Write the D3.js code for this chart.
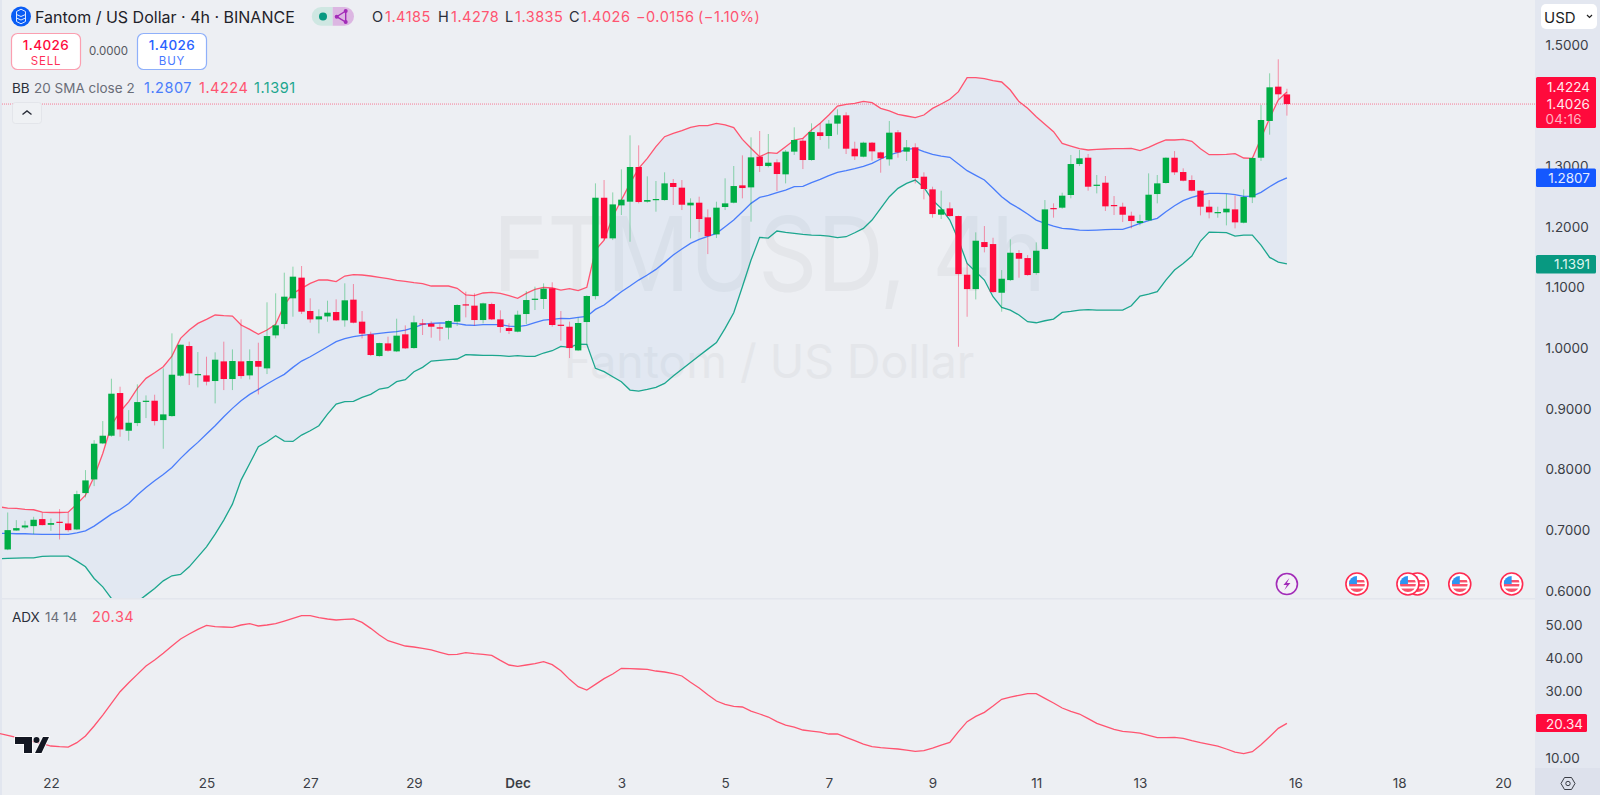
<!DOCTYPE html>
<html>
<head>
<meta charset="utf-8">
<script src="https://cdn.jsdelivr.net/npm/d3@7"></script>
<style>
  html, body { margin: 0; padding: 0; background: #edeff3; overflow: hidden; }
  svg { display: block; font-family: Inter, "Noto Sans", sans-serif; }
  .axis text { font-family: Inter, "Noto Sans", sans-serif; font-size: 13.5px; fill: #3b3e46; }
  .axis .domain { display: none; }
</style>
</head>
<body>
<svg id="chart" width="1600" height="795"></svg>
<script>
// candles, bar 0 is the leftmost one on screen
const opens = [
  .6680,.6993,.7043,.7065,.7181,.7087,.7137,.7109,.7010,.7610,.7835,.8429,.8556,.9260,.8638,.8765,.9117,.9133,.8814,.8880,
  .9546,1.0035,.9562,.9551,.9458,.9782,.9491,.9782,.9551,.9788,.9667,1.0211,1.0398,1.0822,1.1163,1.0613,1.0475,1.0524,1.0596,1.0459,
  1.0800,1.0437,1.0228,.9870,1.0079,.9947,1.0228,1.0002,1.0409,1.0404,1.0343,1.0338,1.0437,1.0723,1.0701,1.0464,1.0728,1.0475,1.0332,1.0272,
  1.0563,1.0805,1.0811,1.0987,1.0387,1.0354,.9963,1.0431,1.0859,1.2481,1.1811,1.2355,1.2416,1.2988,1.2416,1.2449,1.2443,1.2724,1.2647,1.2355,
  1.2399,1.2157,1.1877,1.2328,1.2399,1.2685,1.2652,1.3158,1.3004,1.3065,1.2867,1.3241,1.3422,1.3103,1.3560,1.3499,1.3703,1.3840,1.3290,1.3158,
  1.3389,1.3229,1.3114,1.3560,1.3241,1.3312,1.2828,1.2619,1.2201,1.2306,1.2179,1.1211,1.0974,1.1750,1.1717,1.0914,1.1123,1.1569,1.1486,1.1239,
  1.1634,1.2311,1.2317,1.2526,1.3037,1.3141,1.2685,1.2729,1.2361,1.2333,1.2185,1.2064,1.2108,1.2542,1.2724,1.3141,1.2905,1.2773,1.2597,1.2333,
  1.2229,1.2240,1.2289,1.2069,1.2487,1.3141,1.3747,1.4313,1.4185];
const highs = [
  .7290,.7164,.7153,.7219,.7290,.7192,.7346,.7290,.7648,.7989,.8484,.8798,.9496,.9364,.8979,.9403,.9221,.9232,.9667,1.0244,
  1.0057,1.0107,.9936,.9859,.9931,1.0107,.9980,1.0475,.9980,1.0090,1.0756,1.0904,1.1245,1.1344,1.1355,1.0822,1.0640,1.0783,1.0805,1.1069,
  1.1058,1.0612,1.0272,1.0090,1.0189,1.0486,1.0376,1.0536,1.0481,1.0442,1.0409,1.0459,1.0723,1.0932,1.0904,1.0750,1.0750,1.0624,1.0409,1.0618,
  1.0943,1.1014,1.1069,1.1086,1.0612,1.0437,1.0502,1.0871,1.2718,1.2773,1.2569,1.2949,1.3510,1.3345,1.2834,1.2757,1.2900,1.2790,1.2773,1.2471,
  1.2498,1.2289,1.2416,1.2801,1.3004,1.3180,1.3477,1.3582,1.3532,1.3114,1.3268,1.3642,1.3461,1.3708,1.3708,1.3763,1.3939,1.3890,1.3405,1.3405,
  1.3400,1.3240,1.3746,1.3598,1.3433,1.3378,1.2900,1.2663,1.2597,1.2405,1.2185,1.1398,1.1910,1.2014,1.1821,1.1288,1.1794,1.1618,1.1535,1.1745,
  1.2443,1.2388,1.2564,1.3186,1.3268,1.3202,1.2856,1.2839,1.2509,1.2399,1.2251,1.2201,1.2883,1.2856,1.3147,1.3251,1.2966,1.2850,1.2608,1.2443,
  1.2333,1.2542,1.2515,1.2619,1.3147,1.4011,1.4533,1.4764,1.4278];
const lows = [
  .6669,.6988,.7016,.6933,.7076,.6988,.6845,.6972,.6999,.7538,.7725,.8418,.8539,.8539,.8473,.8715,.8847,.8726,.8341,.8869,
  .9529,.9392,.9353,.9386,.9089,.9309,.9309,.9496,.9485,.9237,.9573,1.0162,1.0321,1.0519,1.0563,1.0420,1.0244,1.0436,1.0448,1.0354,
  1.0409,1.0162,.9870,.9859,.9942,.9936,.9986,.9991,1.0217,1.0173,1.0123,1.0145,1.0365,1.0508,1.0371,1.0409,1.0464,1.0255,1.0233,1.0261,
  1.0398,1.0629,1.0646,1.0354,1.0123,.9837,.9952,1.0052,1.0804,1.1783,1.1783,1.2196,1.1755,1.2388,1.2399,1.2251,1.2432,1.2361,1.2278,1.1811,
  1.1915,1.1552,1.1816,1.2278,1.2388,1.2471,1.2086,1.2905,1.2982,1.2592,1.2718,1.3186,1.2954,1.3092,1.3433,1.3290,1.3521,1.3202,1.3103,1.3147,
  1.3092,1.2894,1.3010,1.3141,1.3087,1.2718,1.2454,1.2152,1.2130,1.2168,1.0023,1.0518,1.0804,1.1580,1.0914,1.0601,1.1107,1.1162,1.1195,1.1211,
  1.1623,1.2152,1.2300,1.2471,1.3004,1.2597,1.2553,1.2262,1.2196,1.2080,1.1976,1.2025,1.2097,1.2388,1.2713,1.2856,1.2751,1.2586,1.2190,1.2141,
  1.2152,1.2025,1.1976,1.2058,1.2393,1.3087,1.3521,1.4110,1.3835];
const closes = [
  .6999,.7032,.7076,.7170,.7082,.7115,.7126,.6999,.7593,.7819,.8424,.8556,.9249,.8660,.8770,.9111,.9133,.8798,.8908,.9562,
  1.0057,.9584,.9573,.9447,.9810,.9491,.9788,.9540,.9788,.9694,1.0200,1.0376,1.0849,1.1179,1.0602,1.0475,1.0525,1.0585,1.0459,1.0789,
  1.0420,1.0239,.9887,1.0084,.9958,1.0206,.9997,1.0426,1.0392,1.0354,1.0338,1.0448,1.0712,1.0706,1.0464,1.0739,1.0475,1.0349,1.0283,1.0552,
  1.0794,1.0816,1.0981,1.0382,1.0371,1.0002,1.0415,1.0860,1.2481,1.1811,1.2371,1.2449,1.2988,1.2410,1.2443,1.2460,1.2718,1.2658,1.2366,1.2399,
  1.2130,1.1849,1.2317,1.2388,1.2674,1.2641,1.3147,1.3004,1.3059,1.2872,1.3241,1.3433,1.3103,1.3565,1.3499,1.3703,1.3840,1.3290,1.3164,1.3389,
  1.3246,1.3131,1.3554,1.3229,1.3312,1.2806,1.2625,1.2212,1.2289,1.2179,1.1222,1.0974,1.1772,1.1668,1.0925,1.1145,1.1574,1.1475,1.1206,1.1607,
  1.2289,1.2295,1.2515,1.3037,1.3131,1.2663,1.2696,1.2339,1.2355,1.2201,1.2097,1.2097,1.2531,1.2718,1.3141,1.2900,1.2762,1.2597,1.2333,1.2240,
  1.2245,1.2300,1.2075,1.2493,1.3136,1.3763,1.4302,1.4187,1.4026];

// indicators start one bar earlier, that bar is cut off by the left edge
const bbUpper = [
  .7384,.7362,.7357,.7340,.7335,.7296,.7290,.7290,.7296,.7428,.7577,.7879,.8264,.8732,.8952,.9117,.9337,.9502,.9595,.9694,
  .9870,1.0162,1.0299,1.0409,1.0475,1.0547,1.0536,1.0530,1.0382,1.0310,1.0228,1.0299,1.0393,1.0712,1.0904,1.0987,1.1069,1.1124,1.1124,1.1097,1.1190,
  1.1212,1.1207,1.1190,1.1168,1.1146,1.1118,1.1102,1.1080,1.1064,1.1025,1.1025,1.1025,1.0987,1.0877,1.0866,1.0910,1.0921,1.0904,1.0866,1.0822,
  1.0904,1.0970,1.1003,1.0992,1.0959,1.0981,1.0948,1.1003,1.1618,1.1783,1.2168,1.2443,1.2718,1.2966,1.3131,1.3323,1.3488,1.3543,1.3587,1.3642,
  1.3670,1.3670,1.3708,1.3681,1.3637,1.3444,1.3296,1.3158,1.3224,1.3213,1.3323,1.3433,1.3461,1.3598,1.3708,1.3845,1.3994,1.4022,1.4038,1.4071,
  1.4049,1.3955,1.3912,1.3857,1.3829,1.3801,1.3845,1.3955,1.4027,1.4104,1.4231,1.4462,1.4462,1.4445,1.4412,1.4390,1.4258,1.4066,1.3956,1.3818,
  1.3692,1.3570,1.3378,1.3334,1.3290,1.3268,1.3279,1.3285,1.3290,1.3290,1.3296,1.3257,1.3312,1.3378,1.3433,1.3433,1.3444,1.3411,1.3290,1.3191,
  1.3191,1.3197,1.3208,1.3136,1.3131,1.3461,1.3791,1.4093,1.4224];
const bbBasis = [
  .6944,.6944,.6939,.6939,.6933,.6928,.6928,.6928,.6928,.6955,.6988,.7065,.7164,.7263,.7340,.7439,.7577,.7703,.7813,.7918,
  .8033,.8182,.8319,.8446,.8583,.8721,.8869,.9007,.9133,.9238,.9320,.9408,.9491,.9568,.9683,.9787,.9859,.9941,1.0024,1.0107,
  1.0156,1.0189,1.0211,1.0228,1.0244,1.0261,1.0272,1.0299,1.0338,1.0392,1.0409,1.0415,1.0415,1.0404,1.0382,1.0376,1.0387,1.0387,1.0387,1.0365,
  1.0354,1.0376,1.0420,1.0464,1.0475,1.0491,1.0486,1.0508,1.0524,1.0639,1.0711,1.0821,1.0931,1.1024,1.1123,1.1206,1.1299,1.1415,1.1536,1.1635,
  1.1728,1.1794,1.1843,1.1893,1.2003,1.2113,1.2251,1.2388,1.2487,1.2520,1.2564,1.2608,1.2663,1.2669,1.2729,1.2784,1.2845,1.2900,1.2927,1.2960,
  1.2998,1.3048,1.3120,1.3186,1.3229,1.3279,1.3296,1.3241,1.3197,1.3169,1.3147,1.3037,1.2927,1.2850,1.2773,1.2636,1.2498,1.2388,1.2306,1.2212,
  1.2113,1.2058,1.2014,1.1976,1.1965,1.1948,1.1943,1.1948,1.1954,1.1959,1.1959,1.2003,1.2058,1.2102,1.2141,1.2251,1.2350,1.2432,1.2487,1.2526,
  1.2553,1.2553,1.2548,1.2531,1.2504,1.2509,1.2570,1.2663,1.2746,1.2807];
const bbLower = [
  .6526,.6532,.6537,.6543,.6543,.6565,.6570,.6570,.6570,.6488,.6394,.6202,.6064,.5872,.5707,.5707,.5817,.5927,.6037,.6163,
  .6246,.6268,.6394,.6559,.6724,.6933,.7164,.7428,.7824,.8099,.8374,.8457,.8556,.8468,.8462,.8567,.8638,.8721,.8913,.9078,
  .9117,.9122,.9188,.9238,.9326,.9348,.9447,.9480,.9612,.9683,.9788,.9799,.9810,.9821,.9892,.9887,.9881,.9881,.9876,.9864,
  .9876,.9864,.9864,.9920,.9958,1.0030,1.0013,1.0068,1.0063,.9667,.9612,.9529,.9447,.9309,.9291,.9319,.9352,.9418,.9539,.9654,
  .9764,.9874,.9984,1.0094,1.0326,1.0584,1.1013,1.1453,1.1827,1.1816,1.1932,1.1910,1.1893,1.1877,1.1866,1.1860,1.1849,1.1822,1.1838,1.1904,
  1.1975,1.2113,1.2306,1.2498,1.2636,1.2718,1.2773,1.2652,1.2443,1.2306,1.2113,1.1783,1.1398,1.1261,1.1123,1.0848,1.0672,1.0628,1.0546,1.0436,
  1.0419,1.0452,1.0480,1.0590,1.0606,1.0628,1.0634,1.0628,1.0628,1.0628,1.0628,1.0700,1.0859,1.0892,1.0931,1.1123,1.1288,1.1398,1.1519,1.1767,
  1.1915,1.1910,1.1904,1.1849,1.1865,1.1865,1.1700,1.1497,1.1420,1.1391];
const adx = [
  17.33,16.73,16.13,15.53,14.82,14.22,13.52,13.31,13.21,14.52,16.53,19.55,22.86,26.38,29.90,32.61,35.12,37.64,39.44,41.46,
  43.67,45.78,47.28,48.69,49.90,49.50,49.39,49.29,50.00,50.40,49.70,50.00,50.40,51.20,52.01,52.81,52.81,52.21,51.81,51.51,
  51.71,51.81,50.80,48.99,46.98,45.27,44.47,43.67,43.37,42.97,42.47,41.76,41.06,41.16,41.66,41.36,41.16,40.86,39.35,37.94,
  37.54,37.94,38.34,38.95,38.04,36.23,33.62,31.41,30.41,32.11,33.82,35.23,36.94,36.84,36.74,36.64,36.13,35.83,35.33,34.63,
  32.72,31.01,29.00,27.09,26.08,25.48,25.28,24.07,23.17,22.26,20.86,19.85,19.25,18.35,18.04,17.74,17.14,17.14,16.13,15.13,
  14.12,13.32,13.02,12.82,12.62,12.31,11.91,12.11,12.92,13.82,14.63,17.84,20.86,22.47,23.67,25.58,27.59,28.29,28.80,29.30,
  29.30,27.89,26.49,24.98,23.97,23.17,21.76,20.36,19.45,18.55,17.94,17.74,17.44,16.74,16.03,16.03,16.13,15.83,15.13,14.53,
  14.02,13.52,12.62,11.71,11.21,11.81,13.92,16.34,18.85,20.34];

// time axis, bar index of every label
const timeBars = [5, 23, 35, 47, 59, 71, 83, 95, 107, 119, 131, 149, 161, 173];
const timeLabels = ["22", "25", "27", "29", "Dec", "3", "5", "7", "9", "11", "13", "16", "18", "20"];
const priceTicks = [0.6, 0.7, 0.8, 0.9, 1.0, 1.1, 1.2, 1.3, 1.5];
const adxTicks = [10, 30, 40, 50];
const flagBars = [156.1, 163.1, 162, 168, 174];
const boltBar = 148;

const RED = "#ff0a3c", GREEN = "#00ad45", BLUE = "#2962ff", TEAL = "#089981";
const RED_LINE = "#ff5470", BLUE_LINE = "#4a7dfb", TEAL_LINE = "#1ca68e";

const svg = d3.select("#chart");
const x = d3.scaleLinear().domain([0, 173]).range([7.7, 1503]);
const y = d3.scaleLinear().domain([0.6, 1.5]).range([590.7, 45]);
const yAdx = d3.scaleLinear().domain([10, 50]).range([757.7, 625]);
const price = d3.format(".4f");

function text(str, px, py, size, fill, attrs) {
  const t = svg.append("text").attr("x", px).attr("y", py).attr("font-size", size)
    .attr("fill", fill).text(str);
  Object.entries(attrs || {}).forEach(([k, v]) => t.attr(k, v));
  return t;
}
const wide = { "letter-spacing": "0.5px" };

// panes and axis columns
svg.append("rect").attr("width", 1600).attr("height", 795).attr("fill", "#edeff3");
svg.append("rect").attr("x", 0).attr("width", 2).attr("height", 795).attr("fill", "#e2e6ef");
svg.append("rect").attr("x", 1535).attr("width", 65).attr("height", 795).attr("fill", "#e3e7f0");
svg.append("rect").attr("x", 1535).attr("y", 768).attr("width", 65).attr("height", 27).attr("fill", "#dde1ec");
svg.append("rect").attr("x", 2).attr("y", 598).attr("width", 1533).attr("height", 1.5).attr("fill", "#e3e6ed");

// watermark
text("FTMUSD, 4h", 493, 291, 103, "#e4e6ea", { textLength: 553, lengthAdjust: "spacingAndGlyphs" });
text("Fantom / US Dollar", 564, 378, 46.4, "#e4e6ea");

const defs = svg.append("defs");
defs.append("clipPath").attr("id", "pricePane").append("rect")
  .attr("x", 2).attr("y", 0).attr("width", 1533).attr("height", 598);
const plot = svg.append("g").attr("clip-path", "url(#pricePane)");

// last price line
plot.append("line").attr("x1", 2).attr("x2", 1535).attr("y1", y(closes[148])).attr("y2", y(closes[148]))
  .attr("stroke", RED).attr("stroke-opacity", 0.5).attr("stroke-dasharray", "1 1");

// bollinger
const band = d3.range(bbUpper.length);
plot.append("path").datum(band).attr("fill", "rgba(30,130,230,0.055)")
  .attr("d", d3.area().x(i => x(i - 1)).y0(i => y(bbLower[i])).y1(i => y(bbUpper[i])));
[[bbUpper, RED_LINE], [bbBasis, BLUE_LINE], [bbLower, TEAL_LINE]].forEach(([vals, col]) => {
  plot.append("path").datum(vals).attr("fill", "none").attr("stroke", col).attr("stroke-width", 1.3)
    .attr("d", d3.line().x((d, i) => x(i - 1)).y(d => y(d)));
});

// candles
const bars = d3.range(opens.length);
const isUp = i => closes[i] >= opens[i];
plot.selectAll(".wick").data(bars).join("line").attr("class", "wick")
  .attr("x1", i => x(i)).attr("x2", i => x(i))
  .attr("y1", i => y(highs[i])).attr("y2", i => y(lows[i]))
  .attr("stroke", i => isUp(i) ? GREEN : RED).attr("stroke-opacity", 0.42).attr("stroke-width", 1);
plot.selectAll(".body").data(bars).join("rect").attr("class", "body")
  .attr("x", i => x(i) - 3.2).attr("width", 6.4)
  .attr("y", i => y(Math.max(opens[i], closes[i])))
  .attr("height", i => Math.max(1.2, Math.abs(y(opens[i]) - y(closes[i]))))
  .attr("fill", i => isUp(i) ? GREEN : RED);

// adx
svg.append("path").datum(adx).attr("fill", "none").attr("stroke", RED_LINE).attr("stroke-width", 1.3)
  .attr("d", d3.line().x((d, i) => x(i - 1)).y(d => yAdx(d)));

// axes
svg.append("g").attr("class", "axis").attr("transform", "translate(1535,0)")
  .call(d3.axisRight(y).tickValues(priceTicks).tickSize(0).tickPadding(10.5).tickFormat(price));
svg.append("g").attr("class", "axis").attr("transform", "translate(1535,0)")
  .call(d3.axisRight(yAdx).tickValues(adxTicks).tickSize(0).tickPadding(10.5).tickFormat(d3.format(".2f")));
const timeAxis = svg.append("g").attr("class", "axis").attr("transform", "translate(0,768)")
  .call(d3.axisBottom(x).tickValues(timeBars).tickSize(0).tickPadding(10.5)
    .tickFormat((d, i) => timeLabels[i]));
timeAxis.selectAll("text").style("font-weight", d => d === 59 ? 600 : 400);

// price badges
function badge(py, h, col) {
  svg.append("rect").attr("x", 1536).attr("y", py).attr("width", 60).attr("height", h).attr("rx", 1.5).attr("fill", col);
}
function badgeText(str, py, fill) {
  text(str, 1590, py, 13.5, fill, { "text-anchor": "end", "dominant-baseline": "central" });
}
badge(77, 51, RED);
badgeText(price(bbUpper[149]), 86.5, "#ffe9ed");
badgeText(price(closes[148]), 104, "#ffe9ed");
text("04:16", 1545.5, 119, 13.5, "#ffb3c2", { "dominant-baseline": "central", "letter-spacing": "0.3px" });
badge(168.5, 18.5, "#1458ff");
badgeText(price(bbBasis[149]), y(bbBasis[149]) + 0.5, "#e3ebff");
badge(255, 18.5, TEAL);
badgeText(price(bbLower[149]), y(bbLower[149]) + 0.5, "#dff5f0");
svg.append("rect").attr("x", 1536).attr("y", 714).attr("width", 51).attr("height", 18).attr("rx", 1.5).attr("fill", RED);
text(d3.format(".2f")(adx[149]), 1546, yAdx(adx[149]) + 0.5, 13.5, "#ffe9ed", { "dominant-baseline": "central" });

// USD box
svg.append("rect").attr("x", 1541).attr("y", 4).attr("width", 56).attr("height", 25).attr("rx", 5).attr("fill", "#fff");
text("USD", 1544, 22.5, 15, "#1c1e24");
svg.append("path").attr("d", "M1587 15l2.5 2.5 2.5-2.5").attr("fill", "none").attr("stroke", "#222").attr("stroke-width", 1.2);

// settings icon in the corner
svg.append("path").attr("d", "M1561 783.5l3.5-6h7l3.5 6-3.5 6h-7z").attr("fill", "none").attr("stroke", "#3a3d45").attr("stroke-width", 1);
svg.append("circle").attr("cx", 1568).attr("cy", 783.5).attr("r", 2.2).attr("fill", "none").attr("stroke", "#3a3d45");

// header
svg.append("circle").attr("cx", 21).attr("cy", 16.5).attr("r", 10).attr("fill", "#0a5df5");
svg.append("path").attr("d", "M16.5 11.5l4.5-2.3 4.5 2.3v10l-4.5 2.3-4.5-2.3zM16.5 14.5l4.5 2 4.5-2M16.5 18l4.5 2 4.5-2")
  .attr("fill", "none").attr("stroke", "#dfe9ff").attr("stroke-width", 1);
text("Fantom / US Dollar · 4h · BINANCE", 35, 23, 16, "#1f2229");

svg.append("path").attr("d", "M332.7 7h-11.5a9.4 9.4 0 0 0 0 18.8h11.5z").attr("fill", "#cfe7e2");
svg.append("path").attr("d", "M332.7 7h11.9a9.4 9.4 0 0 1 0 18.8h-11.9z").attr("fill", "#dcb6e2");
svg.append("circle").attr("cx", 323).attr("cy", 16.5).attr("r", 4).attr("fill", TEAL);
svg.append("path").attr("d", "M345.7 11l-9 5.7 9 5.300z").attr("fill", "none").attr("stroke", "#a22bb8").attr("stroke-width", 1.4);
[[345.7, 11], [336.7, 16.7], [345.7, 22]].forEach(c =>
  svg.append("circle").attr("cx", c[0]).attr("cy", c[1]).attr("r", 2).attr("fill", "#a22bb8"));

const ohlc = [["O", 372, opens[148], 385], ["H", 438, highs[148], 451], ["L", 505, lows[148], 515], ["C", 569, closes[148], 581]];
ohlc.forEach(d => {
  text(d[0], d[1], 22, 14.5, "#2a2e39");
  text(price(d[2]), d[3], 22, 14.5, "#ff5470", wide);
});
text("−0.0156", 636, 22, 14.5, "#ff5470", wide);
text("(−1.10%)", 698, 22, 14.5, "#ff5470", wide);

// sell and buy
function tradeBox(px, col, edge, label) {
  svg.append("rect").attr("x", px + 0.5).attr("y", 33.5).attr("width", 69).attr("height", 36).attr("rx", 6)
    .attr("fill", "#fff").attr("stroke", edge).attr("stroke-width", 1.2);
  text(price(closes[148]), px + 35, 50, 13.5, col, { "text-anchor": "middle", "font-weight": 500, "letter-spacing": "0.4px" });
  text(label, px + 35, 65, 11.5, col, { "text-anchor": "middle", "letter-spacing": "0.8px", "opacity": 0.85 });
}
tradeBox(11, RED, "#fb9fb0", "SELL");
tradeBox(137, "#2962ff", "#8fb0fa", "BUY");
text("0.0000", 89, 55, 11.5, "#55585f");

// indicator legends
text("BB", 12, 92.5, 13.5, "#2a2e39");
text("20 SMA close 2", 34, 92.5, 13.5, "#6a6d78");
text(price(bbBasis[149]), 144, 92.5, 14.5, "#4a7dfb", wide);
text(price(bbUpper[149]), 199, 92.5, 14.5, "#ff5470", wide);
text(price(bbLower[149]), 254, 92.5, 14.5, "#1ca68e", wide);
svg.append("rect").attr("x", 12.5).attr("y", 102.5).attr("width", 29).attr("height", 21).attr("rx", 3)
  .attr("fill", "#eff1f4").attr("stroke", "#e3e5ea");
svg.append("path").attr("d", "M22.5 114.5l4.5-3.5 4.5 3.5").attr("fill", "none").attr("stroke", "#2a2e39").attr("stroke-width", 1.4);

text("ADX", 12, 622, 13.5, "#2a2e39");
text("14 14", 45, 622, 13.5, "#6a6d78");
text(d3.format(".2f")(adx[149]), 92, 622, 14.5, "#ff5470", wide);

// logo
svg.append("path")
  .attr("d", "M15 737h17v16h-8v-9h-9zM43 737h6l-7.5 16h-6.5z")
  .attr("fill", "#131722").attr("stroke", "#fff").attr("stroke-width", 1.5).style("paint-order", "stroke");
svg.append("circle").attr("cx", 36.5).attr("cy", 740).attr("r", 3).attr("fill", "#131722").attr("stroke", "#fff").style("paint-order", "stroke");

// event markers on the bottom of the price pane
defs.append("clipPath").attr("id", "flagClip").append("circle").attr("r", 8);
const eventY = y(0.611);
flagBars.forEach(b => {
  const g = svg.append("g").attr("transform", `translate(${x(b)},${eventY})`);
  g.append("circle").attr("r", 11).attr("fill", "#fff").attr("stroke", "#ff2a50").attr("stroke-width", 1.6);
  const f = g.append("g").attr("clip-path", "url(#flagClip)");
  f.append("rect").attr("x", -8).attr("y", -8).attr("width", 16).attr("height", 16).attr("fill", "#fff");
  f.append("rect").attr("x", -8).attr("y", -4).attr("width", 16).attr("height", 2.4).attr("fill", "#f9506a");
  f.append("rect").attr("x", -8).attr("y", 0).attr("width", 16).attr("height", 2.4).attr("fill", "#f9506a");
  f.append("rect").attr("x", -8).attr("y", 4.5).attr("width", 16).attr("height", 4).attr("fill", "#f9506a");
  f.append("rect").attr("x", -8).attr("y", -8).attr("width", 8).attr("height", 8).attr("fill", "#2d95f2");
});
const bolt = svg.append("g").attr("transform", `translate(${x(boltBar)},${eventY})`);
bolt.append("circle").attr("r", 10.5).attr("fill", "#f3f0f6").attr("stroke", "#a22bb8").attr("stroke-width", 1.6);
bolt.append("path").attr("d", "M2.5-6l-6 7h3.5l-2.5 5 6-7h-3.5z").attr("fill", "#a22bb8");
</script>
</body>
</html>
